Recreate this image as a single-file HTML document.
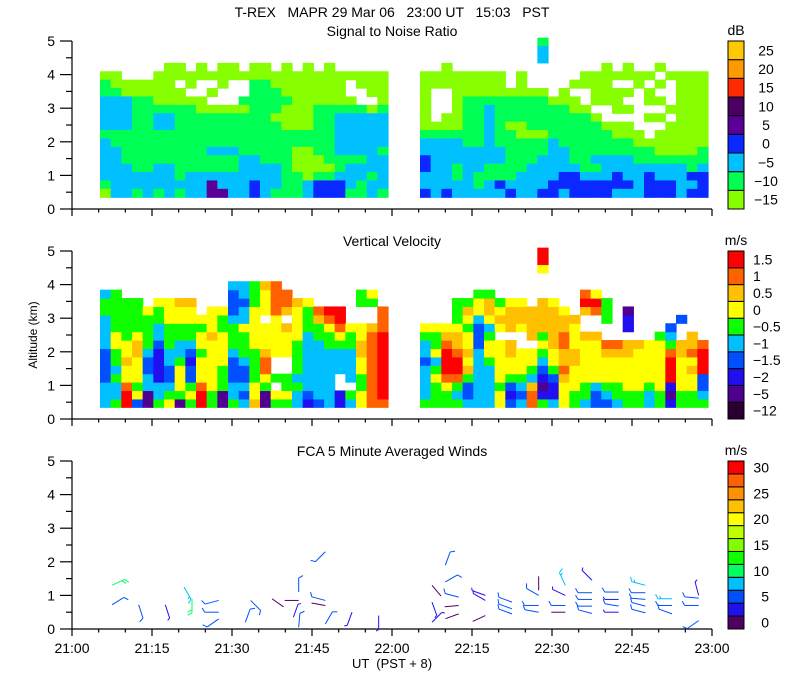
<!DOCTYPE html>
<html><head><meta charset="utf-8"><style>
html,body{margin:0;padding:0;background:#fff;}
svg{display:block;font-family:"Liberation Sans",sans-serif;}
</style></head><body>
<svg id="chart" width="800" height="700" viewBox="0 0 800 700" xmlns="http://www.w3.org/2000/svg">
<rect width="800" height="700" fill="#fff"/>
<text x="392" y="17" font-size="14" text-anchor="middle" xml:space="preserve">T-REX   MAPR 29 Mar 06   23:00 UT   15:03   PST</text>
<text x="392" y="36" font-size="14" text-anchor="middle">Signal to Noise Ratio</text>
<text x="392" y="246" font-size="14" text-anchor="middle">Vertical Velocity</text>
<text x="392" y="456" font-size="14" text-anchor="middle">FCA 5 Minute Averaged Winds</text>
<text x="392" y="668" font-size="13" text-anchor="middle" xml:space="preserve">UT  (PST + 8)</text>
<text x="0" y="0" font-size="12" text-anchor="middle" transform="translate(37,335) rotate(-90)">Altitude (km)</text>
<g id="fields"></g>
<g id="axes"></g>
<g id="bars"></g>
</svg>
<script>
// ---------- data ----------
const snrLevels = ['−15','−10','−5','0','5','10','15','20','25'];
const snrColors = ['#88ff00','#00ff55','#00c0ff','#0a28ff','#5a0099','#4a0060','#ff2a00','#ff9900','#ffc800'];
const velLevels = ['−12','−5','−2','−1.5','−1','−0.5','0','0.5','1','1.5'];
const velColors = ['#2a0030','#500090','#2010f0','#0050ff','#00c0ff','#10ff00','#ffff00','#ffc000','#ff6000','#ff0000'];
const windLevels = ['0','5','10','15','20','25','30'];
const windColors = ['#500060','#2010f0','#0050ff','#00c0ff','#00ff60','#10ff00','#80ff00','#c0ff00','#ffff00','#ffc000','#ff9000','#ff6000','#ff0000'];
const xTickLabels = ['21:00','21:15','21:30','21:45','22:00','22:15','22:30','22:45','23:00'];
const yTickLabels = ['0','1','2','3','4','5'];

// SNR field: rows top (5.1 km) to bottom (0.35 km), each 0.25 km; columns 2 min from 21:05.25
const snrRows = [
"..........................."+"..."+"...........b...............",
"..........................."+"..."+"...........c...............",
"..........................."+"..."+"...........c...............",
"......aa.a.aa.aa.a.a.a....."+"..."+"..a..............a.a..a....",
"aa...aaaaaaaaaaaaaaaaaaaaaa"+"..."+"aaaaaaaa.a.....aaaaaaa.aaaa",
"baaaaaa.a..a..bbaaaaaaa.aaa"+"..."+"aaaaaaaa.a....aaaa..a.a.aaa",
"bbaaaaaa..a...bbbaaaaaa..aa"+"..."+"a..aaaaaaaaa.a..aaaa.a..aaa",
"cccbbaaaaa...bbbbbaaaaaa..a"+"..."+"a..abbbbbbbbaaa.aaa..aa.aaa",
"cccbbbbbbaaaaabbbaaabbbbbab"+"..."+"a..abbcbbbbbbbaa..aa...aaaa",
"cccbbccbbbbbbbbbaaaabbccccc"+"..."+"a.aabbcbbbbbbbbba....aa.aaa",
"cccbbccbbbbbbbbbbaaabbccccc"+"..."+"aaaabbcbaabbbbbbbaaa...aaaa",
"bbbbbbbbbbbbbbbbbbbbbbccccc"+"..."+"bbbbbbcbbaaabbbbbbaaa.aaaaa",
"cbbbbbbbbbbbbbbbbbbbbbccccc"+"..."+"ccccbbcbbbbbcbbbbbbbaaaaaaa",
"ccbbbbbbbbcccbbbbbaabbccccb"+"..."+"ccccccccbbbbccbbbbbbbbaaaab",
"ccbbbbbbbbbbbccbbbaaabbbbcc"+"..."+"dcccccccbbbcccbbccccbbbbbbb",
"cccbbccbbbbbbccccbaaaabcccc"+"..."+"dccbccbbbbcccccbbccccccccbc",
"cccccccbcccccccccbbabbcccbc"+"..."+"cccbcbbbbccccddcccdccdcccdd",
"bcccccccccecccdccbbcdddcbcc"+"..."+"cccccbcdccccddddddddcdddccd",
"accbcbcbcceeccdcbbbcdddbbcb"+"..."+"dcdcccccdccddcddddcccdddcdd"
];

// Vertical velocity: one string per 2-min column, levels bottom (0.35 km) upward in 0.25 km steps
const velCols = [
"44433334444554..","54454556655555..","9986676655555...","3656667765555...","114433455556....",
"5442222344556...","6543344555666...","1566654455667...","5653323455667...","99866656656.....",
"556666667666....","115556666556....","544333455543334.","434334555644344.","766555566666555.",
"1156887666.6667.","56.5..666668888.","5655..6667.788..","4454555566667...","2344444445556...",
"344444445578....","444444455689....","22..44456899....","45.4444556......","6655667766..55..",
"8888888887..56..","899999999888....",
"","","",
"5444434456......","5556546556......","5568999876......","5458998776555...","4335767665675...",
"44444443334665..","44444566546775..","66566666.6765...","32356677.7776...","4345666..6776...",
"8874566.7777.......","5212345657777...699","4223566777776......","666787788776.......","55666776667........",
"455666667..798.....","334666667..896.....","34566678..555......","45566678...........","55666677.221.......",
"55666667...........","44566666...........","556666665..........","2129998543.........","55666677..3........",
"556676877..........","54339998..........."
];

// Winds: time (min after 21:00), altitude (km), direction (deg from), speed (m/s)
const windTime = [7.5,7.5,12.5,17.5,21,22.5,27.5,27.5,27.5,32.5,33.5,37.5,42.5,42.5,42.5,41.5,47.5,47.5,47.5,47.5,52.5,57.5,
 67.5,67.5,67.5,70,70,72.5,72.5,72.5,77.5,77.5,77.5,82.5,82.5,82.5,87.5,87.5,87.5,87.5,92.5,92.5,92.5,92.5,
 97.5,97.5,97.5,97.5,97.5,102.5,102.5,102.5,102.5,107.5,107.5,107.5,107.5,107.5,112.5,112.5,112.5,117.5,117.5,117.5,117.5];
const windAlt = [0.72,1.3,0.72,0.72,1.25,0.9,0.85,0.5,0.3,0.2,0.85,0.9,0.85,0.05,1.1,0.35,0.85,0.7,0.15,2.3,0.5,0.4,
 0.2,0.8,1.3,1.4,1.9,0.95,0.7,0.45,1.0,0.85,0.4,0.8,0.6,0.45,1.0,0.7,0.5,1.15,1.0,0.7,0.5,1.3,
 1.08,0.88,0.68,0.46,1.45,1.1,0.88,0.68,0.5,1.3,1.08,0.88,0.68,0.48,0.9,0.7,0.45,1.0,0.92,0.7,0.25];
const windDir = [58,65,162,162,150,180,255,270,235,20,135,125,270,5,0,20,285,280,30,225,200,180,
 45,160,140,60,20,285,265,250,290,300,245,290,290,290,300,270,280,0,295,270,270,335,
 270,270,270,285,315,270,270,280,270,285,270,275,285,285,270,270,290,345,275,270,235];
const windSpd = [6,12,5,4,9,12,6,6,6,5,5,2,2,5,5,4,5,2,5,6,4,4,
 4,3,2,5,5,6,2,2,4,4,2,5,5,5,5,6,5,2,4,5,2,9,
 6,6,6,5,4,6,3,5,4,9,6,6,6,5,9,6,5,4,6,6,5];

// ---------- geometry ----------
const NS='http://www.w3.org/2000/svg';
const X0=72, X1=712, KM=33.6;
const panelBase=[209,419,629];
function X(t){return X0+t*(X1-X0)/120;}
function Y(p,a){return panelBase[p]-a*KM;}
function mk(tag,attrs,parent){const e=document.createElementNS(NS,tag);for(const k in attrs)e.setAttribute(k,attrs[k]);parent.appendChild(e);return e;}
const fields=document.getElementById('fields');
const axes=document.getElementById('axes');
const bars=document.getElementById('bars');
const T0=5.25, DT=2, DA=0.25, A0=0.35;

// SNR field
const nR=snrRows.length;
snrRows.forEach((row,ri)=>{
  const a=A0+DA*(nR-1-ri);
  for(let ci=0;ci<row.length;ci++){
    const ch=row[ci]; if(ch==='.')continue;
    const k=ch.charCodeAt(0)-97;
    const r=mk('rect',{x:X(T0+DT*ci).toFixed(2),y:Y(0,a+DA).toFixed(2),width:(DT*640/120+0.6).toFixed(2),height:(DA*KM+0.6).toFixed(2),fill:snrColors[k]},fields);
    
    
  }
});
// velocity field
velCols.forEach((col,ci)=>{
  for(let ri=0;ri<col.length;ri++){
    const ch=col[ri]; if(ch==='.')continue;
    const a=A0+DA*ri;
    const r=mk('rect',{x:X(T0+DT*ci).toFixed(2),y:Y(1,a+DA).toFixed(2),width:(DT*640/120+0.6).toFixed(2),height:(DA*KM+0.6).toFixed(2),fill:velColors[+ch]},fields);
    
    
  }
});
// wind barbs
for(let i=0;i<windTime.length;i++){
  const ox=X(windTime[i]), oy=Y(2,windAlt[i]);
  const d=windDir[i]*Math.PI/180, L=14;
  const ux=Math.sin(d), uy=-Math.cos(d);
  const ex=ox+L*ux, ey=oy+L*uy;
  const col=windColors[Math.min(12,Math.floor(windSpd[i]/2.5))];
  const g=mk('g',{stroke:col,'stroke-width':1,fill:'none'},bars);
  
  
  mk('line',{x1:ox,y1:oy,x2:ex,y2:ey},g);
  const th=60*Math.PI/180;
  const fx=ux*Math.cos(th)-uy*Math.sin(th), fy=ux*Math.sin(th)+uy*Math.cos(th);
  let full=Math.floor(windSpd[i]/5), half=(windSpd[i]%5)>=2.5?1:0;
  let pos=0;
  for(let f=0;f<full;f++){const px=ex-ux*pos,py=ey-uy*pos;mk('line',{x1:px,y1:py,x2:px+fx*5,y2:py+fy*5},g);pos+=3;}
  if(half){const px=ex-ux*pos,py=ey-uy*pos;mk('line',{x1:px,y1:py,x2:px+fx*3,y2:py+fy*3},g);}
}

// axes
for(let p=0;p<3;p++){
  const b=panelBase[p];
  const ag=mk('g',{stroke:'#000','stroke-width':1.2},axes);
  
  
  mk('line',{x1:X0,y1:b,x2:X0,y2:Y(p,5)},ag);
  mk('line',{x1:X0,y1:b,x2:X1,y2:b},ag);
  for(let m=0;m<=120;m+=5){const len=(m%15===0)?7:3.5;mk('line',{x1:X(m),y1:b,x2:X(m),y2:b+len},ag);}
  for(let k=0;k<=10;k++){const len=(k%2===0)?12:6;const y=Y(p,k*0.5);mk('line',{x1:X0-len,y1:y,x2:X0,y2:y},ag);}
  yTickLabels.forEach((lb,k)=>{
    const t=mk('text',{x:55,y:Y(p,k)+5,'font-size':14,'text-anchor':'end'},axes);
    t.textContent=lb;
    
    
  });
}
xTickLabels.forEach((lb,k)=>{
  const t=mk('text',{x:X(k*15),y:653,'font-size':14,'text-anchor':'middle'},axes);
  t.textContent=lb;
  
  
});

// colorbars
function colorbar(p,colors,labels,unit,anchor,lx){
  const top=Y(p,5), bot=panelBase[p], n=colors.length, h=(bot-top)/n;
  const g=mk('g',{},bars);
  
  
  colors.forEach((c,i)=>{
    const r=mk('rect',{x:728,y:bot-(i+1)*h,width:16,height:h,fill:c,stroke:'#000','stroke-width':1},g);
    
    
  });
  const step=(labels.length===n)?1:2;
  labels.forEach((lb,j)=>{
    const i=j*step;
    const t=mk('text',{x:lx,y:bot-(i+0.5)*h+5,'font-size':14,'text-anchor':anchor},g);
    t.textContent=lb;
    
    
  });
  const u=mk('text',{x:736,y:top-6,'font-size':14,'text-anchor':'middle'},g);
  u.textContent=unit;
  
  
}
colorbar(0,snrColors,snrLevels,'dB','middle',766);
colorbar(1,velColors,velLevels,'m/s','start',753);
colorbar(2,windColors,windLevels,'m/s','end',769);
</script>
</body></html>
